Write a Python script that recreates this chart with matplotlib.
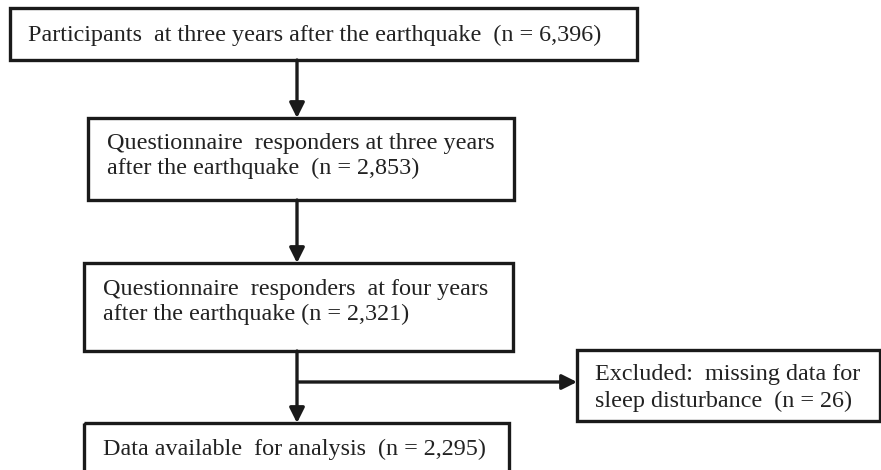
import matplotlib
matplotlib.use("Agg")
import matplotlib.pyplot as plt
from matplotlib.patches import Rectangle

# ---- data ----
stage_labels = [
    "Participants  at three years after the earthquake  (n = 6,396)",
    "Questionnaire  responders at three years\nafter the earthquake  (n = 2,853)",
    "Questionnaire  responders  at four years\nafter the earthquake (n = 2,321)",
    "Data available  for analysis  (n = 2,295)",
]
stage_n = [6396, 2853, 2321, 2295]
excluded_label = "Excluded:  missing data for\nsleep disturbance  (n = 26)"
excluded_n = [26]

# ---- layout (pixel coordinates) ----
W, H = 881, 470
fig = plt.figure(figsize=(W / 100, H / 100), dpi=100)
ax = fig.add_axes([0, 0, 1, 1])
ax.set_xlim(0, W)
ax.set_ylim(H, 0)
ax.axis("off")

boxes = [  # x0, y0, x1, y1
    (10, 8, 637, 60),
    (88, 118, 514, 200),
    (84, 263, 513, 351),
    (84, 423, 509, 478),
]
text_pos = [(28, 35), (107, 156), (103, 302), (103, 449)]
exc_box = (577, 350, 880, 421)
exc_text = (595, 388)

lw = 2.4
font = dict(family="Liberation Serif", fontsize=17.4, color="#222222")

for (x0, y0, x1, y1) in boxes + [exc_box]:
    ax.add_patch(Rectangle((x0, y0), x1 - x0, y1 - y0, fill=False,
                           edgecolor="#1a1a1a", linewidth=lw, joinstyle="miter"))

for (tx, ty), lab in zip(text_pos, stage_labels):
    ax.text(tx, ty, lab, ha="left", va="center", linespacing=1.27, **font)
ax.text(exc_text[0], exc_text[1], excluded_label, ha="left", va="center",
        linespacing=1.33, **font)

arrow_kw = dict(arrowstyle="-|>,head_length=0.9,head_width=0.45",
                color="#1a1a1a", linewidth=lw, shrinkA=0, shrinkB=0)
ax_x = 297
for i in range(3):
    ax.annotate("", xy=(ax_x, boxes[i + 1][1]), xytext=(ax_x, boxes[i][3]),
                arrowprops=arrow_kw)
# side arrow to exclusion box
ax.annotate("", xy=(exc_box[0], 382), xytext=(ax_x + 1, 382),
            arrowprops=arrow_kw)

fig.savefig("out.png", dpi=100, facecolor="white")
